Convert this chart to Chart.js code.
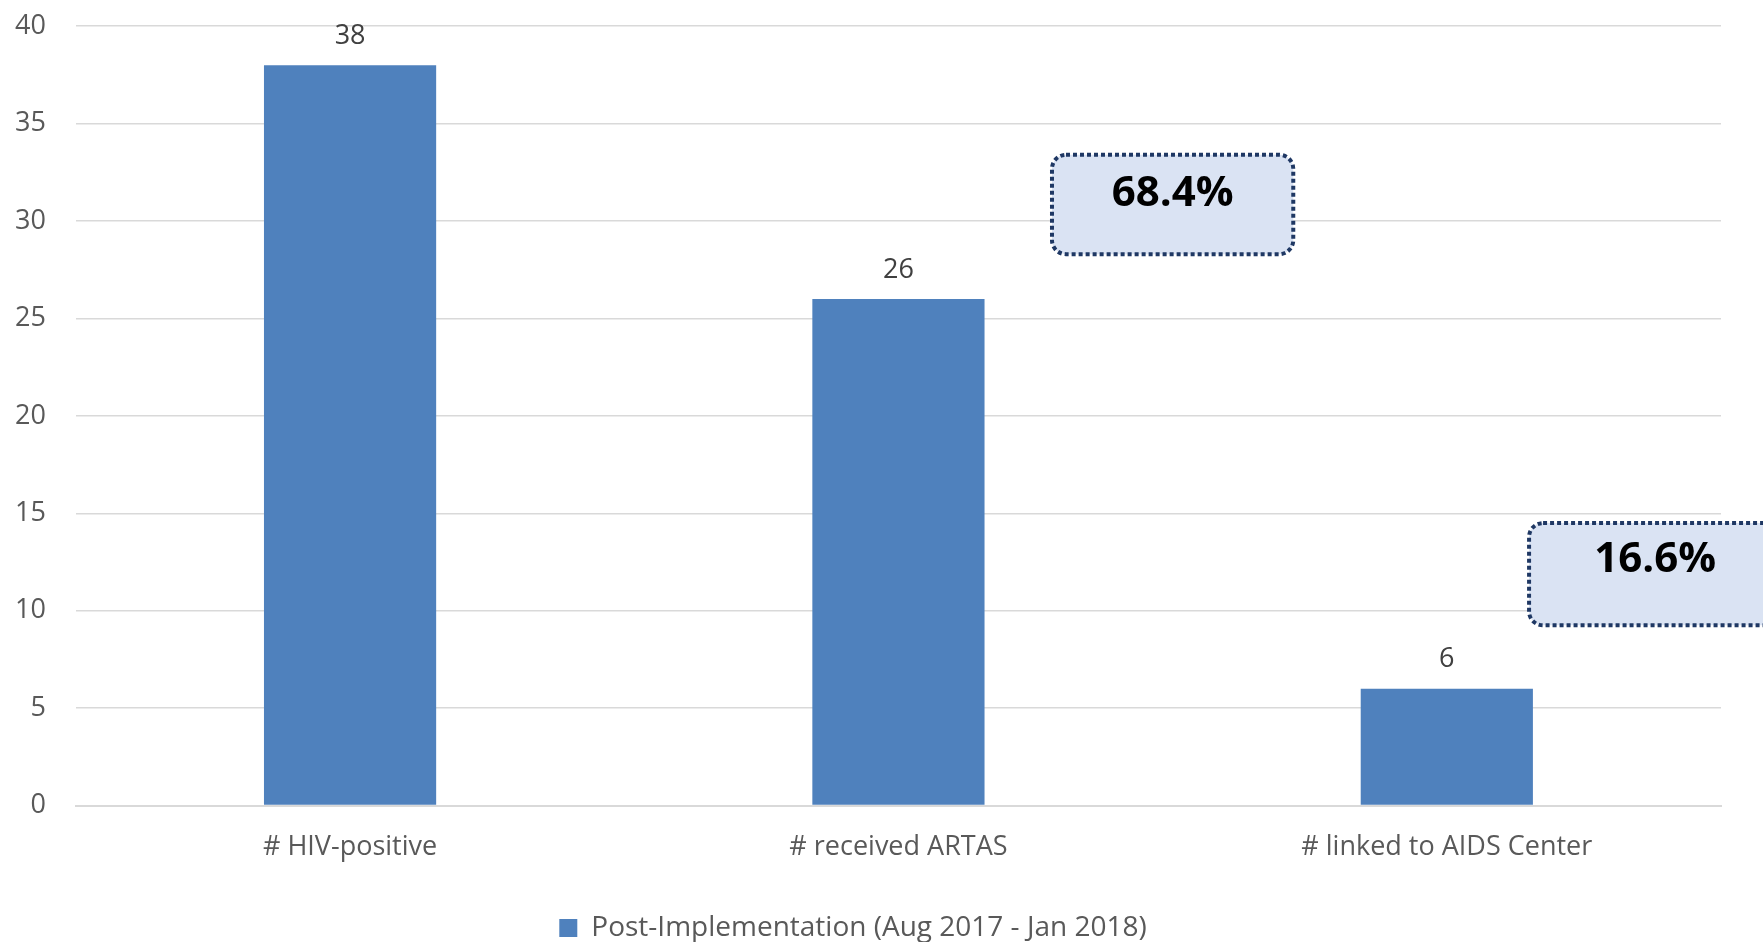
<!DOCTYPE html>
<html lang="en">
<head>
<meta charset="UTF-8">
<script src="https://cdn.jsdelivr.net/npm/chart.js"></script>
<style>
  body { margin: 0; background: #fff; }
  #wrap { width: 1763px; height: 942px; overflow: hidden; }
  /* canvas is a bit taller than the page so the top gridline and the legend sit near the edges like the original */
  #chart { display: block; margin-top: -20px; }
</style>
<title>HIV linkage</title>
</head>
<body>
<div id="wrap"><canvas id="chart" width="1763" height="970"></canvas></div>
<script>
const categories = ['# HIV-positive', '# received ARTAS', '# linked to AIDS Center'];
const seriesName = 'Post-Implementation (Aug 2017 - Jan 2018)';
const seriesValues = [38, 26, 6];
const yTicks = [0, 5, 10, 15, 20, 25, 30, 35, 40];
// callout boxes: text, category it sits next to, horizontal offset (in categories), value range
const callouts = [
  { text: '68.4%', cat: 1, offset: 0.5, half: 0.22, yLo: 28.3, yHi: 33.4, textY: 31.4 },
  { text: '16.6%', cat: 2, offset: 0.38, half: 0.23, yLo: 9.25, yHi: 14.5, textY: 12.6 }
];

const font = "'Open Sans', 'Liberation Sans', sans-serif";

const extras = {
  id: 'extras',
  afterDatasetsDraw(chart) {
    const ctx = chart.ctx;
    const meta = chart.getDatasetMeta(0);
    ctx.save();
    ctx.fillStyle = '#404040';
    ctx.font = '27px ' + font;
    ctx.textAlign = 'center';
    ctx.textBaseline = 'middle';
    meta.data.forEach((bar, i) => {
      ctx.fillText(String(seriesValues[i]), bar.x, bar.y - 29);
    });

    const xs = chart.scales.x, ys = chart.scales.y;
    const catW = xs.getPixelForValue(1) - xs.getPixelForValue(0);
    callouts.forEach(c => {
      const cx = xs.getPixelForValue(c.cat) + c.offset * catW;
      const x0 = cx - c.half * catW, x1 = cx + c.half * catW;
      const y0 = ys.getPixelForValue(c.yHi), y1 = ys.getPixelForValue(c.yLo);
      ctx.beginPath();
      ctx.roundRect(x0, y0, x1 - x0, y1 - y0, 14);
      ctx.fillStyle = '#dae3f3';
      ctx.fill();
      ctx.setLineDash([4, 3]);
      ctx.lineWidth = 4;
      ctx.strokeStyle = '#1f3864';
      ctx.stroke();
      ctx.setLineDash([]);
      ctx.fillStyle = '#000';
      ctx.font = 'bold 42px ' + font;
      ctx.textBaseline = 'middle';
      ctx.fillText(c.text, cx, ys.getPixelForValue(c.textY));
    });
    ctx.restore();
  }
};

new Chart(document.getElementById('chart'), {
  type: 'bar',
  data: {
    labels: categories,
    datasets: [{
      label: seriesName,
      data: seriesValues,
      backgroundColor: '#4f81bd',
      categoryPercentage: 0.314,
      barPercentage: 1
    }]
  },
  options: {
    responsive: false,
    animation: false,
    layout: { padding: { top: -6, right: 42, left: -15, bottom: -2 } },
    plugins: {
      legend: {
        position: 'bottom',
        labels: {
          color: '#595959',
          font: { family: font, size: 28 },
          boxWidth: 18, boxHeight: 18,
          padding: 7
        }
      },
      tooltip: { enabled: false }
    },
    scales: {
      x: {
        grid: { display: false },
        border: { color: '#d9d9d9', width: 2 },
        ticks: { color: '#595959', font: { family: font, size: 27 }, padding: 18 },
        afterFit(axis) { axis.height += 25; }
      },
      y: {
        min: 0, max: 40,
        afterBuildTicks(axis) { axis.ticks = yTicks.map(v => ({ value: v })); },
        grid: { color: '#d9d9d9', lineWidth: 1.5, drawTicks: false },
        border: { display: false },
        ticks: { color: '#595959', font: { family: font, size: 27 }, padding: 30 }
      }
    }
  },
  plugins: [extras]
});
</script>
</body>
</html>
